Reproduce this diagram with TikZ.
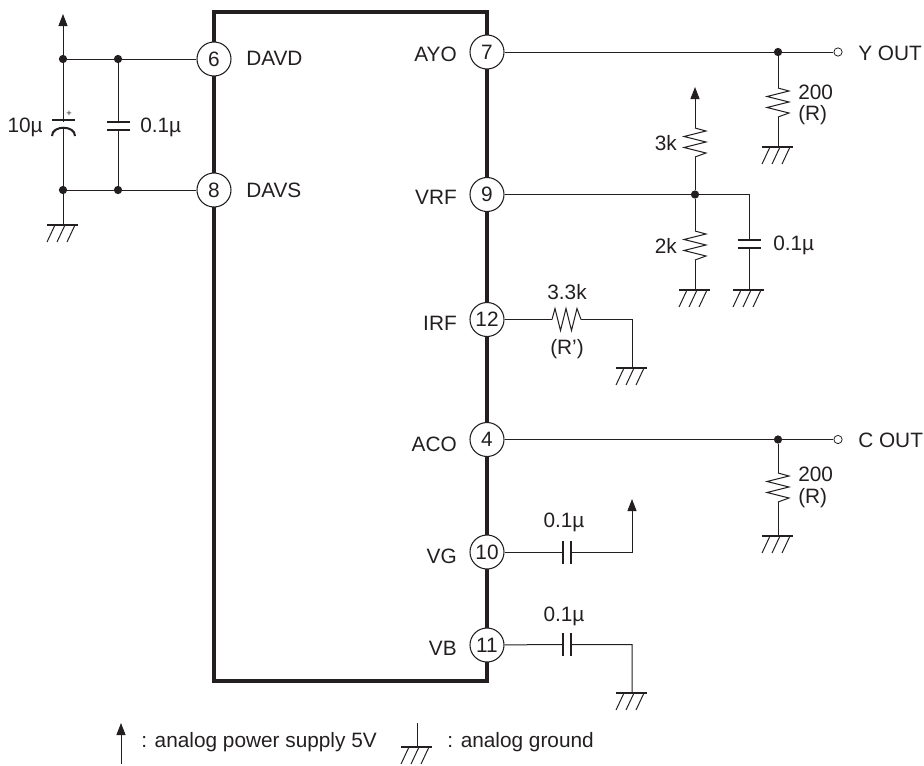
\documentclass[tikz,border=0pt]{standalone}
\usepackage{fontspec}
\setmainfont{Liberation Sans}
\usetikzlibrary{arrows.meta}
\definecolor{ink}{HTML}{231F20}
\tikzset{
  lab/.style={font=\fontsize{15.6}{18}\selectfont,text=ink,inner sep=0pt},
  pin/.style={circle,draw=ink,fill=white,line width=.8pt,minimum size=25.5pt,inner sep=0pt,font=\fontsize{15.6}{18}\selectfont,text=ink},
  dotnode/.style={circle,fill=ink,inner sep=0pt,minimum size=6.2pt},
  opennode/.style={circle,draw=ink,fill=white,line width=.6pt,inner sep=0pt,minimum size=6.2pt},
  wire/.style={ink,line width=.75pt},
  supply/.style={wire,-{Triangle[length=9pt,width=6.75pt]}},
  gnd/.pic={
    \coordinate (-t) at (0,0);
    \draw[ink,line width=1.7pt] (-16,0)--(15,0);
    \foreach \i in {-8,2,12} \draw[wire] (\i,0)--(\i-8,17);
  },
  res/.pic={
    \coordinate (-t) at (0,0);
    \coordinate (-b) at (0,29);
    \draw[wire] (0,0)--(11,3)--(-11,8.5)--(11,14)--(-11,19.5)--(11,25)--(0,29);
  },
  cap/.pic={
    \coordinate (-t) at (0,0);
    \coordinate (-b) at (0,8);
    \draw[ink,line width=1.5pt] (-11.5,0)--(11.5,0) (-11.5,8)--(11.5,8);
  }
}
\begin{document}
\begin{tikzpicture}[x=.75pt,y=-.75pt]
\useasboundingbox (0,0) rectangle (924,765);

\draw[ink,line width=3pt] (214,12) rectangle (487,681);

% pins
\foreach \num/\px/\py/\pname/\lx/\ly/\side in {6/214/59/DAVD/246/58.5/west,8/214/190/DAVS/246/190/west,7/487/52/AYO/457/54/east,9/487/194.5/VRF/457/197/east,12/487/319.5/IRF/457/323/east,4/487/439.5/ACO/457/444/east,10/487/552/VG/457/556/east,11/487/645/VB/457/648/east}{
  \node[pin] (p\num) at (\px,\py) {\num};
  \node[lab,anchor=\side] (l\num) at (\lx,\ly) {\pname};
}

% left supply
\node[dotnode] (d1) at (63,59) {};
\node[dotnode] (d2) at (118,59) {};
\node[dotnode] (d3) at (63,190) {};
\node[dotnode] (d4) at (118,190) {};
\coordinate (v1) at (63,14);
\pic (g1) at (63,225) {gnd};
\pic (c2) at (118,122) {cap};
\draw[supply] (d1)--(v1);
\draw[wire] (d1)--(d2)--(p6) (d3)--(d4)--(p8);
\draw[wire] (d1)--(d3)--(g1-t);
\draw[wire] (d2)--(c2-t) (c2-b)--(d4);
\fill[white] (50,121.5) rectangle (76,126.5);
\draw[ink,line width=1.5pt] (52,120)--(75,120);
\draw[ink,line width=1.5pt] (52,136) .. controls (52,125) and (75,125) .. (75,136);
\node[lab,font=\fontsize{7}{7}\selectfont] (plus) at (69,114) {+};
\node[lab,anchor=east] (t10u) at (43,127) {10µ};
\node[lab,anchor=west] (t01a) at (140,127) {0.1µ};

% Y out
\node[dotnode] (d5) at (778,52) {};
\node[opennode] (o1) at (838,52) {};
\node[lab,anchor=west] (tyo) at (858,53) {Y OUT};
\draw[wire] (p7)--(d5)--(o1);
\pic (r1) at (778,88) {res};
\pic (g2) at (778,147) {gnd};
\draw[wire] (d5)--(r1-t) (r1-b)--(g2-t);
\node[lab,anchor=west] (t200a) at (798,92) {200};
\node[lab,anchor=west] (tra) at (798,115) {(R)};

% VRF
\node[dotnode] (d6) at (695,194.5) {};
\coordinate (k1) at (749,194.5);
\coordinate (v2) at (695,87);
\pic (r2) at (695,128) {res};
\pic (r3) at (695,231) {res};
\pic (c3) at (749,240) {cap};
\pic (g3) at (695,290) {gnd};
\pic (g4) at (749,290) {gnd};
\draw[wire] (p9)--(d6)--(k1)--(c3-t) (c3-b)--(g4-t);
\draw[supply] (r2-t)--(v2);
\draw[wire] (r2-b)--(d6)--(r3-t) (r3-b)--(g3-t);
\node[lab,anchor=east] (t3k) at (677,143) {3k};
\node[lab,anchor=east] (t2k) at (677,246) {2k};
\node[lab,anchor=west] (t01b) at (773,245) {0.1µ};

% IRF
\pic[rotate=90] (r4) at (552,319.5) {res};
\coordinate (k2) at (632,319.5);
\pic (g5) at (632,368) {gnd};
\draw[wire] (p12)--(r4-t) (r4-b)--(k2)--(g5-t);
\node[lab] (t33k) at (567,292) {3.3k};
\node[lab] (trb) at (567,349) {(R')};

% C out
\node[dotnode] (d7) at (778,439.5) {};
\node[opennode] (o2) at (838,439.5) {};
\node[lab,anchor=west] (tco) at (858,440) {C OUT};
\draw[wire] (p4)--(d7)--(o2);
\pic (r5) at (778,473) {res};
\pic (g6) at (778,536) {gnd};
\draw[wire] (d7)--(r5-t) (r5-b)--(g6-t);
\node[lab,anchor=west] (t200b) at (798,474) {200};
\node[lab,anchor=west] (trc) at (798,498) {(R)};

% VG, VB
\pic[rotate=90] (c4) at (563,552) {cap};
\coordinate (k3) at (632,552);
\coordinate (v3) at (632,499);
\draw[wire] (p10)--(c4-t);
\draw[supply] (c4-b)--(k3)--(v3);
\node[lab] (t01c) at (564,522) {0.1µ};
\pic[rotate=90] (c5) at (563,644.5) {cap};
\coordinate (k4) at (632,644.5);
\pic (g7) at (632,693) {gnd};
\draw[wire] (p11)--(c5-t) (c5-b)--(k4)--(g7-t);
\node[lab] (t01d) at (564,616) {0.1µ};

% legend
\coordinate (lv1) at (121,764);
\coordinate (lv2) at (121,723);
\draw[supply] (lv1)--(lv2);
\node[lab,anchor=west] (tsup) at (141,742) {: analog power supply 5V};
\coordinate (lg1) at (417,723);
\pic (g8) at (417,747) {gnd};
\draw[wire] (lg1)--(g8-t);
\node[lab,anchor=west] (tgnd) at (447,742) {: analog ground};

\end{tikzpicture}
\end{document}
